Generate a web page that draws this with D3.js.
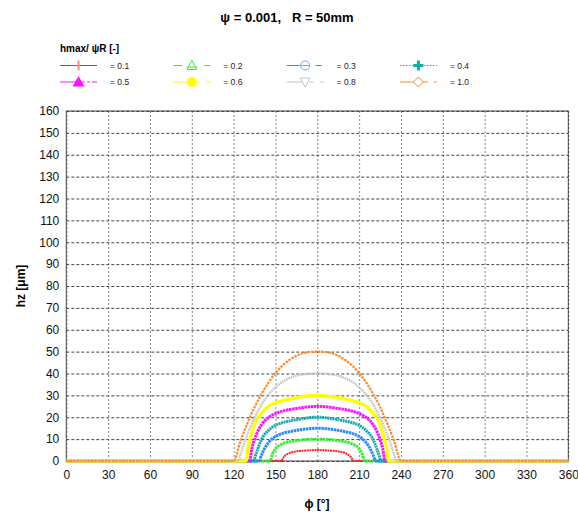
<!DOCTYPE html>
<html>
<head>
<meta charset="utf-8">
<script src="https://cdn.jsdelivr.net/npm/d3@7/dist/d3.min.js"></script>
<style>
  html, body { margin: 0; padding: 0; background: #fff; }
  svg { display: block; font-family: "Liberation Sans", Arial, Helvetica, sans-serif; }
</style>
</head>
<body>
<svg id="chart" width="578" height="513"></svg>
<script>
// ---------- data ----------
const titleText = "ψ = 0.001,   R = 50mm";
const legendTitle = "hmax/ ψR [-]";
const xLabel = "ϕ [°]";
const yLabel = "hz [μm]";
const xTicks = [0, 30, 60, 90, 120, 150, 180, 210, 240, 270, 300, 330, 360];
const yTicks = [0, 10, 20, 30, 40, 50, 60, 70, 80, 90, 100, 110, 120, 130, 140, 150, 160];

const ratios = [0.1, 0.2, 0.3, 0.4, 0.5, 0.6, 0.8, 1.0];
const legendLabels = ["= 0.1", "= 0.2", "= 0.3", "= 0.4", "= 0.5", "= 0.6", "= 0.8", "= 1.0"];
const colors = ["#ff2020", "#33ee33", "#2a8cff", "#12aaaa", "#ff10ff", "#ffff00", "#c4c4c4", "#ff8a30"];
const symbols = ["plus", "triUpOpen", "circleOpen", "plusBold", "triUpFilled", "circleFilled", "triDownOpen", "diamondOpen"];

// phi [deg] and hz [um] per series
const phi01 = [0, 154.5, 155, 157, 160, 165, 170, 175, 180, 185, 190, 195, 200, 203, 205, 205.5, 360];
const hz01  = [0, 0, 0.8, 2.5, 3.6, 4.4, 4.7, 4.9, 5.0, 4.9, 4.7, 4.4, 3.6, 2.5, 0.8, 0, 0];

const phi02 = [0, 146, 148, 150, 155, 160, 165, 170, 175, 180, 185, 190, 195, 200, 205, 210, 212, 214, 360];
const hz02  = [0, 0, 3.4, 5.6, 7.8, 8.8, 9.3, 9.7, 9.9, 10.0, 9.9, 9.7, 9.3, 8.8, 7.8, 5.6, 3.4, 0, 0];

const phi03 = [0, 138, 140, 142, 145, 150, 155, 160, 165, 170, 175, 180, 185, 190, 195, 200, 205, 210, 215, 218, 220, 222, 360];
const hz03  = [0, 0, 2.8, 5.5, 8.4, 11.2, 12.6, 13.4, 14.0, 14.5, 14.85, 15.0, 14.85, 14.5, 14.0, 13.4, 12.6, 11.2, 8.4, 5.5, 2.8, 0, 0];

const phi04 = [0, 134.5, 135, 137, 140, 145, 150, 155, 160, 165, 170, 175, 180, 185, 190, 195, 200, 205, 210, 215, 220, 223, 225, 225.5, 360];
const hz04  = [0, 0, 1.1, 5.0, 9.9, 14.0, 16.3, 17.5, 18.3, 18.9, 19.4, 19.85, 20.0, 19.85, 19.4, 18.9, 18.3, 17.5, 16.3, 14.0, 9.9, 5.0, 1.1, 0, 0];

const phi05 = [0, 131.5, 133, 135, 140, 145, 150, 155, 160, 165, 170, 175, 180, 185, 190, 195, 200, 205, 210, 215, 220, 225, 227, 228.5, 360];
const hz05  = [0, 0, 5.5, 9.8, 16.6, 19.9, 21.7, 22.8, 23.5, 24.0, 24.5, 24.85, 25.0, 24.85, 24.5, 24.0, 23.5, 22.8, 21.7, 19.9, 16.6, 9.8, 5.5, 0, 0];

const phi06 = [0, 129, 130, 132.5, 135, 140, 145, 150, 155, 160, 165, 170, 175, 180, 185, 190, 195, 200, 205, 210, 215, 220, 225, 227.5, 230, 231, 360];
const hz06  = [0, 0, 4.8, 11.5, 16.8, 22.0, 25.0, 26.6, 27.6, 28.3, 28.9, 29.4, 29.85, 30.0, 29.85, 29.4, 28.9, 28.3, 27.6, 26.6, 25.0, 22.0, 16.8, 11.5, 4.8, 0, 0];

const phi08 = [0, 123.5, 125, 130, 135, 140, 145, 150, 155, 160, 165, 170, 175, 180, 185, 190, 195, 200, 205, 210, 215, 220, 225, 230, 235, 236.5, 360];
const hz08  = [0, 0, 3.1, 12.3, 19.8, 25.8, 30.3, 33.7, 36.2, 37.9, 39.0, 39.6, 39.9, 40.0, 39.9, 39.6, 39.0, 37.9, 36.2, 33.7, 30.3, 25.8, 19.8, 12.3, 3.1, 0, 0];

const phi10 = [0, 120, 125, 130, 135, 140, 145, 150, 155, 160, 165, 170, 175, 180, 185, 190, 195, 200, 205, 210, 215, 220, 225, 230, 235, 240, 360];
const hz10  = [0, 0, 9.3, 17.4, 24.6, 30.7, 35.9, 40.2, 43.6, 46.2, 48.1, 49.3, 49.9, 50.0, 49.9, 49.3, 48.1, 46.2, 43.6, 40.2, 35.9, 30.7, 24.6, 17.4, 9.3, 0, 0];

const phiSeries = [phi01, phi02, phi03, phi04, phi05, phi06, phi08, phi10];
const hzSeries  = [hz01, hz02, hz03, hz04, hz05, hz06, hz08, hz10];

// ---------- styles ----------
const lineWidths = [2, 3, 3, 3, 3, 3.4, 2.4, 2.2];
const lineDash = ["2,0.6", "2.5,0.6", "2.5,0.6", "2,0.6", "2.5,0.6", null, "1.6,0.8", "2.5,1"];
const legendDash = [null, "9,22,6", "13,16,6", "1.5,1.5", "16,6,3,2,3,2", "17,6,4,6", "17,6,4,6", "17,6,5,6"];

(function () {
const svg = d3.select("#chart");
const mLeft = 66.3, mRight = 568.3, mTop = 111, mBottom = 461;

const x = d3.scaleLinear().domain([0, 360]).range([mLeft, mRight]);
const y = d3.scaleLinear().domain([0, 160]).range([mBottom, mTop]);

// title
svg.append("text")
  .attr("x", 287).attr("y", 22)
  .attr("text-anchor", "middle")
  .style("white-space", "pre")
  .attr("font-size", 13).attr("font-weight", "bold")
  .text(titleText);

// grid
const gx = svg.append("g").attr("transform", `translate(0,${mBottom})`)
  .call(d3.axisBottom(x).tickValues(xTicks).tickSize(-(mBottom - mTop)).tickFormat(""));
gx.select(".domain").remove();
gx.selectAll("line").attr("stroke", "#8a8a8a").attr("stroke-dasharray", "2,2").attr("stroke-width", 1);

const gy = svg.append("g").attr("transform", `translate(${mLeft},0)`)
  .call(d3.axisLeft(y).tickValues(yTicks).tickSize(-(mRight - mLeft)).tickFormat(""));
gy.select(".domain").remove();
gy.selectAll("line").attr("stroke", "#444").attr("stroke-dasharray", "3,2").attr("stroke-width", 1);

// frame
svg.append("rect")
  .attr("x", mLeft).attr("y", mTop)
  .attr("width", mRight - mLeft).attr("height", mBottom - mTop)
  .attr("fill", "none").attr("stroke", "#444").attr("stroke-width", 1);

// tick labels
const ax = svg.append("g").attr("transform", `translate(0,${mBottom})`)
  .call(d3.axisBottom(x).tickValues(xTicks).tickSize(0).tickPadding(9));
ax.select(".domain").remove();
ax.selectAll("text").attr("font-size", 12).attr("fill", "#111")
  .attr("font-family", "Liberation Sans, Arial, sans-serif");

const ay = svg.append("g").attr("transform", `translate(${mLeft},0)`)
  .call(d3.axisLeft(y).tickValues(yTicks).tickSize(0).tickPadding(7));
ay.select(".domain").remove();
ay.selectAll("text").attr("font-size", 12).attr("fill", "#111")
  .attr("font-family", "Liberation Sans, Arial, sans-serif");

// axis labels
svg.append("text")
  .attr("x", 317).attr("y", 508)
  .attr("text-anchor", "middle")
  .attr("font-size", 12).attr("font-weight", "bold")
  .text(xLabel);

svg.append("text")
  .attr("transform", `translate(25,${(mTop + mBottom) / 2}) rotate(-90)`)
  .attr("text-anchor", "middle")
  .attr("font-size", 12).attr("font-weight", "bold")
  .text(yLabel);

// series
const line = d3.line()
  .x(d => x(d[0]))
  .y(d => y(d[1]))
  .curve(d3.curveMonotoneX);

const plot = svg.append("g");
ratios.forEach((r, i) => {
  const pts = phiSeries[i].map((p, k) => [p, hzSeries[i][k]]);
  const p = plot.append("path")
    .datum(pts)
    .attr("d", line)
    .attr("fill", "none")
    .attr("stroke", colors[i])
    .attr("stroke-width", lineWidths[i]);
  if (lineDash[i]) p.attr("stroke-dasharray", lineDash[i]);
});

// legend
svg.append("text")
  .attr("x", 60).attr("y", 52)
  .attr("font-size", 10).attr("font-weight", "bold")
  .text(legendTitle);

function drawSymbol(g, type, cx, cy, color) {
  const s = 5;
  switch (type) {
    case "plus":
      g.append("line").attr("x1", cx).attr("x2", cx).attr("y1", cy - s).attr("y2", cy + s)
        .attr("stroke", "#ff8888").attr("stroke-width", 2);
      break;
    case "plusBold":
      g.append("path").attr("d", `M${cx - 5},${cy}H${cx + 5}M${cx},${cy - 5}V${cy + 5}`)
        .attr("stroke", color).attr("stroke-width", 3);
      break;
    case "triUpOpen":
      g.append("path").attr("d", `M${cx},${cy - 5}L${cx + 5},${cy + 4}L${cx - 5},${cy + 4}Z`)
        .attr("fill", "#fff").attr("stroke", color).attr("stroke-width", 1);
      g.append("line").attr("x1", cx - 5).attr("x2", cx + 5).attr("y1", cy + 1.5).attr("y2", cy + 1.5)
        .attr("stroke", color).attr("stroke-width", 1);
      break;
    case "triUpFilled":
      g.append("path").attr("d", `M${cx},${cy - 6}L${cx + 6},${cy + 4.5}L${cx - 6},${cy + 4.5}Z`)
        .attr("fill", color);
      break;
    case "triDownOpen":
      g.append("path").attr("d", `M${cx - 5},${cy - 4}L${cx + 5},${cy - 4}L${cx},${cy + 5}Z`)
        .attr("fill", "#fff").attr("stroke", color).attr("stroke-width", 1);
      break;
    case "circleOpen":
      g.append("circle").attr("cx", cx).attr("cy", cy).attr("r", 4.5)
        .attr("fill", "#fff").attr("stroke", "#66aaff").attr("stroke-width", 1);
      g.append("line").attr("x1", cx - 4.5).attr("x2", cx + 4.5).attr("y1", cy).attr("y2", cy)
        .attr("stroke", "#66aaff").attr("stroke-width", 1);
      break;
    case "circleFilled":
      g.append("circle").attr("cx", cx).attr("cy", cy).attr("r", 5).attr("fill", color);
      break;
    case "diamondOpen":
      g.append("path").attr("d", `M${cx},${cy - 5}L${cx + 5},${cy}L${cx},${cy + 5}L${cx - 5},${cy}Z`)
        .attr("fill", "#fff").attr("stroke", color).attr("stroke-width", 1);
      break;
  }
}

const legend = svg.append("g");
ratios.forEach((r, i) => {
  const col = i % 4, row = Math.floor(i / 4);
  const x0 = 60 + col * 113.3;
  const yy = 65.5 + row * 16.5;
  const g = legend.append("g");
  const l = g.append("line")
    .attr("x1", x0).attr("x2", x0 + 37)
    .attr("y1", yy).attr("y2", yy)
    .attr("stroke", colors[i]).attr("stroke-width", 1.2);
  if (legendDash[i]) l.attr("stroke-dasharray", legendDash[i]);
  drawSymbol(g, symbols[i], x0 + 18.5, yy, colors[i]);
  g.append("text")
    .attr("x", x0 + 50).attr("y", yy + 3)
    .attr("font-size", 8.5).attr("fill", "#222")
    .text(legendLabels[i]);
});
})();
</script>
</body>
</html>
